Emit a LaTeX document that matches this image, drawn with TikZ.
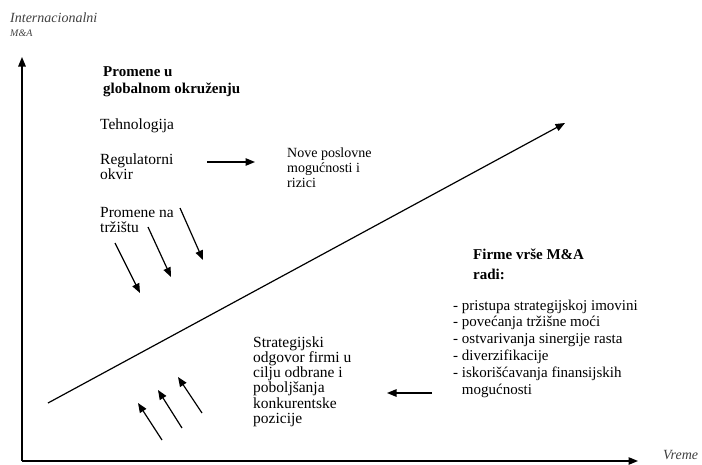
\documentclass[tikz,border=0pt]{standalone}
\usepackage{fontspec}
\setmainfont{Liberation Serif}
\usepackage{tikz}
\usetikzlibrary{arrows.meta}

\begin{document}
\begin{tikzpicture}
    [ x=1pt, y=-1pt,
      arr/.style={line width=1.2pt, -{Triangle[length=9.5pt,width=7.5pt]}},
      txt/.style={anchor=base west, inner sep=0pt, align=left,
                  font=\fontsize{15.5}{15.5}\selectfont},
      head/.style={txt, font=\fontsize{15}{17}\selectfont\bfseries},
      axlabel/.style={anchor=base west, inner sep=0pt,
                      font=\fontsize{14}{14}\selectfont\itshape, text=black!75},
    ]
    \useasboundingbox (0,0) rectangle (702,464);

    % axes
    \coordinate (O) at (22,461);
    \coordinate (Ytop) at (22,57);
    \coordinate (Xend) at (638,461);
    \draw[arr] (O) -- (Ytop);
    \draw[arr] (O) -- (Xend);
    \node[axlabel] (ylab) at (10,22) {Internacionalni};
    \node[axlabel, font=\fontsize{10}{10}\selectfont\itshape] (ylab2) at (10,36.5) {M\&A};
    \node[axlabel] (xlab) at (663,459) {Vreme};

    % trend
    \coordinate (D0) at (48,403);
    \coordinate (D1) at (565,123);
    \draw[arr] (D0) -- (D1);

    % upper left block (base = last line)
    \node[head] (promene) at (103,93) {Promene u\\globalnom okruženju};
    \node[txt] (tehno) at (100,129) {Tehnologija};
    \node[txt] (regul) at (100,179.5) {Regulatorni\\okvir};
    \node[txt] (trziste) at (100,232.5) {Promene na\\tržištu};
    \node[txt, font=\fontsize{14}{15}\selectfont] (nove) at (287,187) {Nove poslovne\\mogućnosti i\\rizici};
    \coordinate (R0) at (207,162);
    \coordinate (R1) at (255,162);
    \draw[arr] (R0) -- (R1);
    \foreach \name/\sx/\sy/\ex/\ey in {m1/115/243/140/293, m2/148/227/171/277, m3/180/208/203/260} {
        \coordinate (\name a) at (\sx,\sy);
        \coordinate (\name b) at (\ex,\ey);
        \draw[arr] (\name a) -- (\name b);
    }

    % lower right block
    \node[head, font=\fontsize{15}{20}\selectfont\bfseries] (firme) at (473,279) {Firme vrše M\&A\\radi:};
    \node[txt, font=\fontsize{15}{16.8}\selectfont] (razlozi) at (453,394)
        {- pristupa strategijskoj imovini\\
         - povećanja tržišne moći\\
         - ostvarivanja sinergije rasta\\
         - diverzifikacije\\
         - iskorišćavanja finansijskih\\
         \hphantom{- }mogućnosti};
    \coordinate (L0) at (432,393);
    \coordinate (L1) at (387,393);
    \draw[arr] (L0) -- (L1);

    % lower left block
    \node[txt, font=\fontsize{15.5}{15.3}\selectfont] (odgovor) at (253,423.5)
        {Strategijski\\odgovor firmi u\\cilju odbrane i\\poboljšanja\\konkurentske\\pozicije};
    \foreach \name/\sx/\sy/\ex/\ey in {s1/162/440/138/403, s2/182/428/158/390, s3/202/413/178/377} {
        \coordinate (\name a) at (\sx,\sy);
        \coordinate (\name b) at (\ex,\ey);
        \draw[arr] (\name a) -- (\name b);
    }
\end{tikzpicture}
\end{document}
